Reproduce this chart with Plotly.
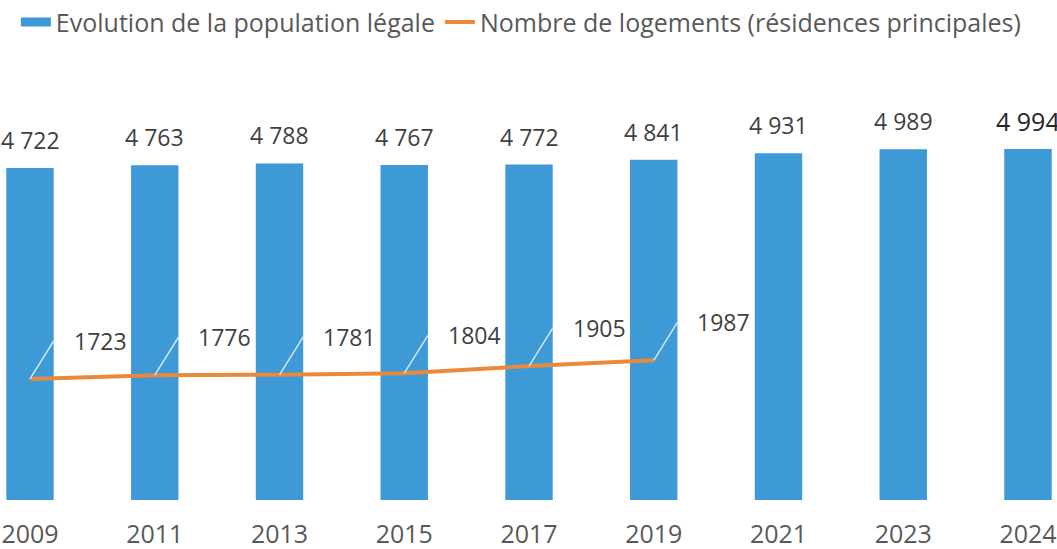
import plotly.graph_objects as go

years = ["2009", "2011", "2013", "2015", "2017", "2019", "2021", "2023", "2024"]
population = [4722, 4763, 4788, 4767, 4772, 4841, 4931, 4989, 4994]
pop_labels = ["4 722", "4 763", "4 788", "4 767", "4 772", "4 841", "4 931", "4 989", "4 994"]
log_years = ["2009", "2011", "2013", "2015", "2017", "2019"]
logements = [1723, 1776, 1781, 1804, 1905, 1987]

BLUE = "#3D9AD6"
ORANGE = "#E8893C"
FONT = "Open Sans"

fig = go.Figure()
fig.add_trace(go.Bar(x=years, y=population, marker=dict(color=BLUE, line=dict(width=0)),
                     width=0.38, showlegend=False, hoverinfo="skip"))
# legend entries
fig.add_trace(go.Scatter(x=[None], y=[None], mode="lines", line=dict(color=BLUE, width=9),
                         name="Evolution de la population légale"))
fig.add_trace(go.Scatter(x=log_years, y=logements, mode="lines", line=dict(color=ORANGE, width=4),
                         name="Nombre de logements (résidences principales)", hoverinfo="skip"))

for i, (v, lab) in enumerate(zip(population, pop_labels)):
    last = i == len(years) - 1
    fig.add_annotation(x=i, y=v, xref="x", yref="y", text=lab,
                       showarrow=False, yshift=28,
                       font=dict(family=FONT, size=25 if last else 23,
                                 color="#262626" if last else "#404040"))
for yr, v in zip(log_years, logements):
    xi = years.index(yr)
    # leader line
    fig.add_annotation(x=xi, y=v, xref="x", yref="y", text=" ", showarrow=True, arrowhead=0,
                       arrowwidth=1.5, arrowcolor="#D3E8F6", ax=25, ay=-40,
                       borderpad=0, font=dict(size=2))
    fig.add_annotation(x=xi, y=v, xref="x", yref="y", text=str(v), showarrow=False,
                       xshift=70, yshift=38,
                       font=dict(family=FONT, size=23, color="#404040"))

fig.update_layout(
    width=1057, height=549,
    margin=dict(l=0, r=0, t=60, b=49, autoexpand=False),
    paper_bgcolor="white", plot_bgcolor="white",
    font=dict(family=FONT),
    legend=dict(orientation="h", x=0.015, xanchor="left", y=1.086, yanchor="middle",
                font=dict(family=FONT, size=25, color="#595959"),
                bgcolor="rgba(0,0,0,0)"),
)
fig.update_xaxes(type="category", range=[-0.2405, 8.2325], showline=False, showgrid=False,
                 ticks="outside", ticklen=12, tickcolor="rgba(0,0,0,0)", automargin=False,
                 tickfont=dict(family=FONT, size=25, color="#595959"))
fig.update_yaxes(range=[0, 6259], visible=False, showgrid=False, automargin=False)

fig.write_html("out.html", config={"displayModeBar": False},
               post_script="document.body.style.margin='0';")
